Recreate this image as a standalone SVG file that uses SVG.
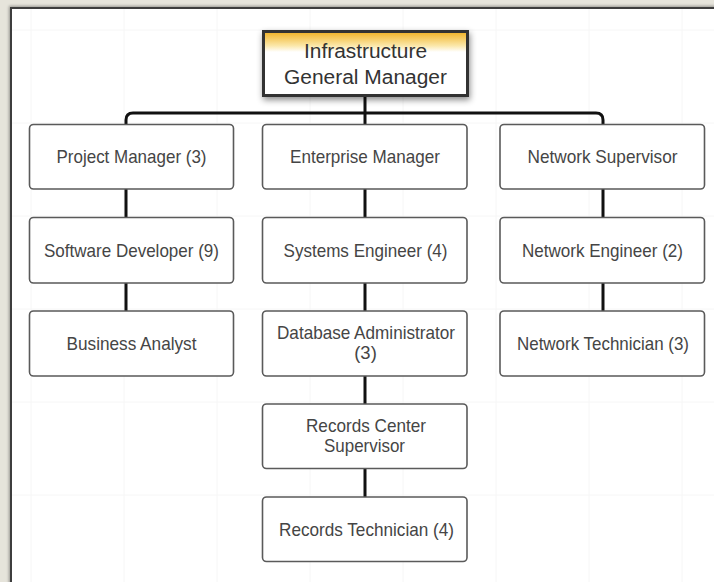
<svg xmlns="http://www.w3.org/2000/svg" width="714" height="582" viewBox="0 0 714 582">
<defs>
<linearGradient id="gold" x1="0" y1="0" x2="0" y2="1">
<stop offset="0" stop-color="#f0b021"/>
<stop offset="0.22" stop-color="#fbe7a8"/>
<stop offset="0.32" stop-color="#ffffff"/>
<stop offset="1" stop-color="#ffffff"/>
</linearGradient>
<filter id="shadow" x="-20%" y="-20%" width="140%" height="150%">
<feDropShadow dx="1" dy="3" stdDeviation="3" flood-color="#000" flood-opacity="0.45"/>
</filter>
<filter id="edge" x="-10%" y="-10%" width="120%" height="120%">
<feDropShadow dx="-1" dy="-1" stdDeviation="1.5" flood-color="#000" flood-opacity="0.35"/>
</filter>
</defs>
<style>
.box{fill:#ffffff;stroke:#5a5a5a;stroke-width:1.6}
.top{fill:url(#gold);stroke:#333333;stroke-width:3}
.t{font-family:"Liberation Sans",Arial,sans-serif;font-size:18.5px;fill:#454545;text-anchor:middle}
.tt{font-family:"Liberation Sans",Arial,sans-serif;font-size:20px;fill:#333333;text-anchor:middle}
.c{fill:none;stroke:#111111;stroke-width:3}
.g{stroke:#f6f6f6;stroke-width:1}
</style>
<rect x="0" y="0" width="714" height="582" fill="#e6e4db"/>
<rect x="11" y="8" width="710" height="590" fill="#ffffff" stroke="#3c3c3c" stroke-width="2" filter="url(#edge)"/>
<g id="grid">
<line class="g" x1="31" y1="9" x2="31" y2="582"/>
<line class="g" x1="124" y1="9" x2="124" y2="582"/>
<line class="g" x1="217" y1="9" x2="217" y2="582"/>
<line class="g" x1="310" y1="9" x2="310" y2="582"/>
<line class="g" x1="403" y1="9" x2="403" y2="582"/>
<line class="g" x1="496" y1="9" x2="496" y2="582"/>
<line class="g" x1="589" y1="9" x2="589" y2="582"/>
<line class="g" x1="682" y1="9" x2="682" y2="582"/>
<line class="g" x1="12" y1="30" x2="714" y2="30"/>
<line class="g" x1="12" y1="123" x2="714" y2="123"/>
<line class="g" x1="12" y1="216" x2="714" y2="216"/>
<line class="g" x1="12" y1="309" x2="714" y2="309"/>
<line class="g" x1="12" y1="402" x2="714" y2="402"/>
<line class="g" x1="12" y1="495" x2="714" y2="495"/>
</g>
<g id="connectors">
<path class="c" d="M365 96 V124"/>
<path class="c" d="M126 124 V120 Q126 113 133 113 H596 Q603 113 603 120 V124"/>
<path class="c" d="M126 189 V217 M126 283 V311"/>
<path class="c" d="M365 189 V217 M365 283 V311 M365 376 V404 M365 468 V497"/>
<path class="c" d="M603 189 V217 M603 283 V311"/>
</g>
<g id="n-gm">
<rect class="top" x="263.5" y="31.5" width="204" height="64" filter="url(#shadow)"/>
<text class="tt" x="365.5" y="57.5" textLength="123" lengthAdjust="spacingAndGlyphs">Infrastructure</text>
<text class="tt" x="365.5" y="83.5" textLength="163" lengthAdjust="spacingAndGlyphs">General Manager</text>
</g>
<g id="n-pm">
<rect class="box" x="29.5" y="124.5" width="204" height="64.5" rx="4"/>
<text class="t" x="131.5" y="163" textLength="150" lengthAdjust="spacingAndGlyphs">Project Manager (3)</text>
</g>
<g id="n-em">
<rect class="box" x="262.5" y="124.5" width="204.5" height="64.5" rx="4"/>
<text class="t" x="365" y="163" textLength="150" lengthAdjust="spacingAndGlyphs">Enterprise Manager</text>
</g>
<g id="n-ns">
<rect class="box" x="500" y="124.5" width="204.5" height="64.5" rx="4"/>
<text class="t" x="602.5" y="163" textLength="150" lengthAdjust="spacingAndGlyphs">Network Supervisor</text>
</g>
<g id="n-sd">
<rect class="box" x="29.5" y="217.5" width="204" height="65.5" rx="4"/>
<text class="t" x="131.5" y="256.5" textLength="175" lengthAdjust="spacingAndGlyphs">Software Developer (9)</text>
</g>
<g id="n-se">
<rect class="box" x="262.5" y="217.5" width="204.5" height="65.5" rx="4"/>
<text class="t" x="365.5" y="256.5" textLength="164" lengthAdjust="spacingAndGlyphs">Systems Engineer (4)</text>
</g>
<g id="n-ne">
<rect class="box" x="500" y="217.5" width="204.5" height="65.5" rx="4"/>
<text class="t" x="602.5" y="256.5" textLength="161" lengthAdjust="spacingAndGlyphs">Network Engineer (2)</text>
</g>
<g id="n-ba">
<rect class="box" x="29.5" y="311" width="204" height="65" rx="4"/>
<text class="t" x="131.5" y="349.5" textLength="130" lengthAdjust="spacingAndGlyphs">Business Analyst</text>
</g>
<g id="n-dba">
<rect class="box" x="262.5" y="311" width="204.5" height="65" rx="4"/>
<text class="t" x="366" y="339" textLength="178" lengthAdjust="spacingAndGlyphs">Database Administrator</text>
<text class="t" x="365.5" y="358.5">(3)</text>
</g>
<g id="n-nt">
<rect class="box" x="500" y="311" width="204.5" height="65" rx="4"/>
<text class="t" x="603" y="349.5" textLength="172" lengthAdjust="spacingAndGlyphs">Network Technician (3)</text>
</g>
<g id="n-rcs">
<rect class="box" x="262.5" y="404" width="204.5" height="64.5" rx="4"/>
<text class="t" x="366" y="432" textLength="120" lengthAdjust="spacingAndGlyphs">Records Center</text>
<text class="t" x="364.5" y="452" textLength="81" lengthAdjust="spacingAndGlyphs">Supervisor</text>
</g>
<g id="n-rt">
<rect class="box" x="262.5" y="497" width="204.5" height="64.5" rx="4"/>
<text class="t" x="366.5" y="535.5" textLength="175" lengthAdjust="spacingAndGlyphs">Records Technician (4)</text>
</g>
</svg>
